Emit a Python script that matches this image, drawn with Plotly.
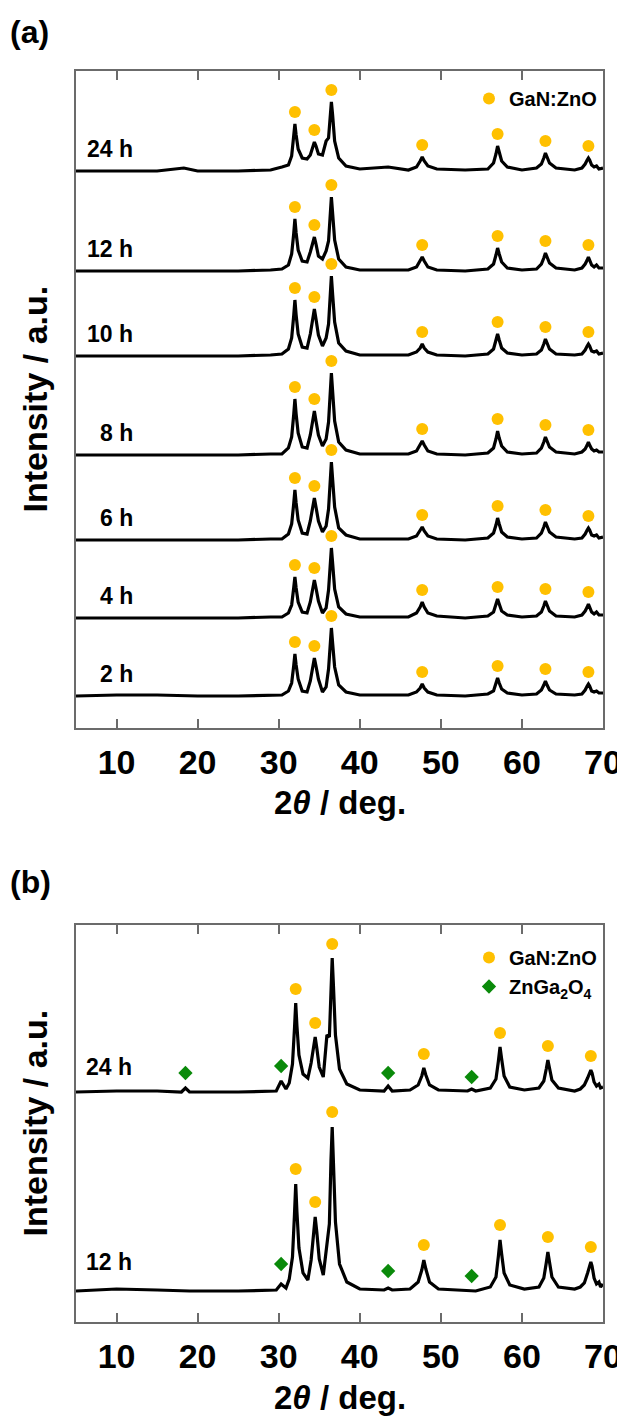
import plotly.graph_objects as go

# ---------------- Panel (a) data ----------------
two_theta_a = [5, 10, 15, 18.3, 20, 25, 29.0, 30.4, 31.2, 31.6, 31.85, 32.0, 32.15, 32.4, 32.9, 33.5, 33.9,
               34.2, 34.4, 34.6, 34.9, 35.4, 35.85, 36.15, 36.35, 36.5, 36.65, 36.9, 37.4, 38.3, 40, 43.5,
               46.0, 47.0, 47.45, 47.7, 47.95, 48.4, 49.5, 53, 55.8, 56.5, 56.8, 57.0, 57.2, 57.5, 58.2,
               60, 61.8, 62.4, 62.7, 62.9, 63.1, 63.4, 64.2, 66.5, 67.4, 67.8, 68.05, 68.2, 68.35, 68.6,
               68.9, 69.2, 69.5, 70]

int_24h_a = [0, 0, 0, 3, 0, 0, 1, 4, 6, 15, 34, 47, 36, 22, 13, 12, 16,
             24, 29, 25, 17, 16, 30, 33, 55, 69, 56, 30, 13, 5, 2, 4,
             1, 4, 10, 14, 10, 5, 2, 1, 2, 8, 17, 25, 19, 10, 4,
             1, 3, 7, 13, 18, 14, 8, 3, 1, 3, 7, 11, 13, 11, 6, 4, 5, 2, 3]
int_12h_a = [0, 0, 0, 0, 0, 0, 1, 2, 6, 17, 37, 52, 38, 21, 10, 9, 19,
             27, 34, 27, 15, 12, 20, 30, 58, 74, 58, 31, 12, 4, 1, 1,
             1, 4, 10, 14, 10, 4, 1, 0, 2, 7, 16, 23, 17, 9, 3,
             1, 2, 7, 13, 18, 14, 8, 3, 1, 3, 7, 11, 14, 11, 6, 4, 6, 3, 3]
int_10h_a = [0, 0, 0, 0, 0, 0, 1, 2, 7, 18, 40, 56, 41, 22, 9, 8, 22,
             37, 47, 37, 21, 10, 18, 32, 62, 80, 62, 34, 13, 5, 1, 1,
             1, 4, 8, 12, 8, 4, 1, 0, 2, 7, 15, 22, 16, 8, 3,
             1, 2, 6, 12, 17, 13, 7, 2, 1, 2, 6, 10, 12, 10, 5, 4, 5, 2, 3]
int_8h_a = [0, 0, 0, 0, 0, 0, 1, 1, 7, 18, 40, 56, 41, 22, 8, 7, 20,
            34, 44, 34, 20, 9, 16, 33, 64, 82, 64, 34, 13, 5, 1, 1,
            1, 4, 10, 14, 10, 4, 1, 0, 2, 7, 16, 24, 17, 9, 3,
            1, 2, 7, 13, 18, 14, 8, 3, 1, 3, 6, 10, 13, 10, 6, 4, 5, 3, 3]
int_6h_a = [0, 0, 0, 0, 0, 0, 1, 1, 6, 16, 36, 50, 37, 20, 7, 6, 19,
            33, 42, 33, 19, 8, 14, 31, 61, 78, 61, 33, 12, 5, 1, 1,
            1, 4, 9, 13, 9, 4, 1, 0, 2, 7, 15, 22, 16, 8, 3,
            1, 2, 7, 13, 18, 14, 8, 3, 1, 2, 6, 10, 12, 10, 5, 4, 5, 2, 3]
int_4h_a = [0, 0, 0, 0, 0, 0, 1, 1, 5, 13, 30, 41, 30, 16, 6, 5, 16,
            30, 38, 30, 17, 5, 10, 28, 55, 70, 55, 29, 11, 4, 1, 1,
            1, 5, 11, 16, 11, 5, 2, 0, 2, 6, 13, 19, 14, 7, 3,
            1, 2, 6, 12, 17, 13, 7, 2, 1, 3, 7, 11, 14, 11, 6, 4, 6, 3, 3]
int_2h_a = [0, 1, 1, 0, 0, 0, 1, 1, 5, 13, 30, 42, 31, 17, 5, 4, 15,
            30, 38, 30, 17, 4, 9, 27, 53, 68, 53, 29, 11, 4, 1, 1,
            1, 4, 8, 12, 8, 4, 1, 0, 2, 5, 12, 18, 13, 7, 3,
            1, 2, 6, 11, 15, 11, 6, 2, 1, 2, 6, 10, 12, 10, 5, 4, 5, 3, 3]

labels_a = ["24 h", "12 h", "10 h", "8 h", "6 h", "4 h", "2 h"]
series_a = [int_24h_a, int_12h_a, int_10h_a, int_8h_a, int_6h_a, int_4h_a, int_2h_a]
offsets_a = [557, 457, 372, 273, 188, 110, 32]
peak_idx_a = [11, 18, 25, 35, 43, 51, 59]   # GaN:ZnO reflections

# ---------------- Panel (b) data ----------------
two_theta_b = [5, 10, 15, 18.0, 18.5, 19.0, 25, 29.7, 30.3, 30.9, 31.3, 31.7, 31.95, 32.1, 32.25, 32.5, 33.0,
               33.6, 34.0, 34.3, 34.5, 34.7, 35.0, 35.5, 35.95, 36.25, 36.45, 36.6, 36.75, 37.0, 37.5, 38.4,
               40, 43.0, 43.5, 44.0, 46.2, 47.2, 47.65, 47.9, 48.15, 48.6, 49.7, 53.3, 53.8, 54.3, 56.1,
               56.8, 57.1, 57.3, 57.5, 57.8, 58.5, 60.3, 62.1, 62.7, 63.0, 63.2, 63.4, 63.7, 64.5, 66.5,
               67.2, 67.7, 68.1, 68.35, 68.5, 68.65, 68.9, 69.2, 69.5, 69.7, 70]

int_24h_b = [1, 2, 2, 1, 5, 1, 1, 2, 12, 4, 10, 29, 65, 90, 67, 38, 19,
             15, 30, 46, 56, 45, 26, 16, 58, 56, 110, 135, 108, 58, 24, 9,
             3, 2, 7, 2, 3, 8, 17, 25, 18, 8, 3, 2, 4, 2, 5,
             14, 32, 46, 34, 17, 6, 3, 5, 12, 24, 33, 25, 13, 5, 2,
             4, 8, 15, 21, 23, 20, 11, 7, 9, 5, 6]
int_12h_b = [1, 3, 2, 1, 1, 1, 1, 2, 8, 4, 13, 35, 78, 108, 80, 44, 19,
             12, 32, 60, 75, 60, 33, 17, 47, 68, 132, 165, 130, 70, 28, 10,
             3, 2, 4, 2, 3, 10, 22, 32, 23, 10, 3, 1, 1, 1, 5,
             15, 36, 52, 38, 19, 7, 3, 5, 14, 29, 40, 30, 15, 5, 3,
             5, 9, 19, 27, 30, 26, 14, 8, 10, 5, 8]

labels_b = ["24 h", "12 h"]
series_b = [int_24h_b, int_12h_b]
offsets_b = [229, 30]
peak_idx_b = [13, 20, 27, 39, 49, 57, 66]

# ZnGa2O4 reflections (position, marker height above each baseline)
spinel_theta_24h = [18.5, 30.3, 43.5, 53.8]
spinel_height_24h = [20, 27, 20, 16]
spinel_theta_12h = [30.3, 43.5, 53.8]
spinel_height_12h = [28, 21, 16]

# ---------------- Figure geometry (page has an 8px body margin) ----------------
PAGE = 8
W, H = 625 - PAGE, 1423 - PAGE
X0, X1 = 76, 603          # plot left/right in page pixels
YA0, YA1 = 71, 728        # panel (a) top/bottom in page pixels
YB0, YB1 = 925, 1322      # panel (b) top/bottom in page pixels
ML, MR = X0 - PAGE, W - (X1 - PAGE)
MT, MB = YA0 - PAGE, H - (YB1 - PAGE)
PH = H - MT - MB
PW = W - ML - MR
def py(pix):
    return (H - MB - (pix - PAGE)) / PH
def px(pix):
    return (pix - PAGE - ML) / PW

FONT = "Liberation Sans"
GOLD = "#FFC000"
GREEN = "#0A8A0A"
AXC = "#6b6b6b"
LW = 3.2

fig = go.Figure()

# panel (a) curves
for lab, ser, off in zip(labels_a, series_a, offsets_a):
    fig.add_trace(go.Scatter(x=two_theta_a, y=[v + off for v in ser], mode="lines",
                             line=dict(color="black", width=LW), showlegend=False,
                             xaxis="x", yaxis="y", hoverinfo="skip"))
cx, cy = [], []
for ser, off in zip(series_a, offsets_a):
    for i in peak_idx_a:
        cx.append(two_theta_a[i]); cy.append(ser[i] + off + 12)
fig.add_trace(go.Scatter(x=cx, y=cy, mode="markers", name="<b>GaN:ZnO</b>",
                         marker=dict(color=GOLD, size=12, symbol="circle"),
                         xaxis="x", yaxis="y", legend="legend"))

# panel (b) curves
for lab, ser, off in zip(labels_b, series_b, offsets_b):
    fig.add_trace(go.Scatter(x=two_theta_b, y=[v + off for v in ser], mode="lines",
                             line=dict(color="black", width=LW), showlegend=False,
                             xaxis="x2", yaxis="y2", hoverinfo="skip"))
cx, cy = [], []
for ser, off, pad in zip(series_b, offsets_b, [14, 15]):
    for i in peak_idx_b:
        cx.append(two_theta_b[i]); cy.append(ser[i] + off + pad)
fig.add_trace(go.Scatter(x=cx, y=cy, mode="markers", name="<b>GaN:ZnO</b>",
                         marker=dict(color=GOLD, size=12, symbol="circle"),
                         xaxis="x2", yaxis="y2", legend="legend2"))
dx = spinel_theta_24h + spinel_theta_12h
dy = [h + offsets_b[0] for h in spinel_height_24h] + [h + offsets_b[1] for h in spinel_height_12h]
fig.add_trace(go.Scatter(x=dx, y=dy, mode="markers", name="<b>ZnGa<sub>2</sub>O<sub>4</sub></b>",
                         marker=dict(color=GREEN, size=11, symbol="diamond"),
                         xaxis="x2", yaxis="y2", legend="legend2"))

# curve labels
ann = []
for lab, off in zip(labels_a, offsets_a):
    ann.append(dict(x=12.3, y=off + 22, xref="x", yref="y", text="<b>%s</b>" % lab, showarrow=False,
                    xanchor="right", yanchor="middle", font=dict(family=FONT, size=23, color="black")))
for lab, off, d in zip(labels_b, offsets_b, [26, 30]):
    ann.append(dict(x=12.1, y=off + d, xref="x2", yref="y2", text="<b>%s</b>" % lab, showarrow=False,
                    xanchor="right", yanchor="middle", font=dict(family=FONT, size=23, color="black")))

# panel letters, axis titles
ann.append(dict(x=px(8), y=py(32), xref="paper", yref="paper", text="<b>(a)</b>", showarrow=False,
                xanchor="left", yanchor="middle", font=dict(family=FONT, size=32, color="black")))
ann.append(dict(x=px(8), y=py(882), xref="paper", yref="paper", text="<b>(b)</b>", showarrow=False,
                xanchor="left", yanchor="middle", font=dict(family=FONT, size=32, color="black")))
for yc in [py((YA0 + YA1) / 2), py((YB0 + YB1) / 2)]:
    ann.append(dict(x=px(34), y=yc, xref="paper", yref="paper", text="<b>Intensity / a.u.</b>",
                    textangle=-90, showarrow=False, xanchor="center", yanchor="middle",
                    font=dict(family=FONT, size=34, color="black")))
for yc in [py(802), py(1397)]:
    ann.append(dict(x=0.5, y=yc, xref="paper", yref="paper", text="<b>2<i>θ</i> / deg.</b>",
                    showarrow=False, xanchor="center", yanchor="middle",
                    font=dict(family=FONT, size=33, color="black")))

xcommon = dict(range=[5, 70], tickvals=[10, 20, 30, 40, 50, 60, 70], ticks="inside", ticklen=9,
               tickwidth=1.5, tickcolor=AXC, showline=True, linecolor=AXC, linewidth=1.5,
               mirror="allticks", showgrid=False, zeroline=False, ticklabelstandoff=3,
               automargin=False,
               tickfont=dict(family=FONT, size=34, color="black", weight="bold"))
ycommon = dict(showticklabels=False, ticks="", showline=True, linecolor=AXC, linewidth=1.5,
               mirror=True, showgrid=False, zeroline=False, automargin=False)

fig.update_layout(
    width=W, height=H, margin=dict(l=ML, r=MR, t=MT, b=MB),
    paper_bgcolor="white", plot_bgcolor="white",
    xaxis=dict(domain=[0, 1], anchor="y", **xcommon),
    yaxis=dict(domain=[py(YA1), 1], range=[0, YA1 - YA0], anchor="x", **ycommon),
    xaxis2=dict(domain=[0, 1], anchor="y2", **xcommon),
    yaxis2=dict(domain=[0, py(YB0)], range=[0, YB1 - YB0], anchor="x2", **ycommon),
    legend=dict(x=px(602), y=py(79), xanchor="right", yanchor="top", bgcolor="rgba(0,0,0,0)",
                font=dict(family=FONT, size=20, color="black"), itemwidth=30, tracegroupgap=0),
    legend2=dict(x=px(602), y=py(938), xanchor="right", yanchor="top", bgcolor="rgba(0,0,0,0)",
                 font=dict(family=FONT, size=20, color="black"), itemwidth=30, tracegroupgap=0),
    annotations=ann,
    showlegend=True,
)

fig.write_html("out.html")
